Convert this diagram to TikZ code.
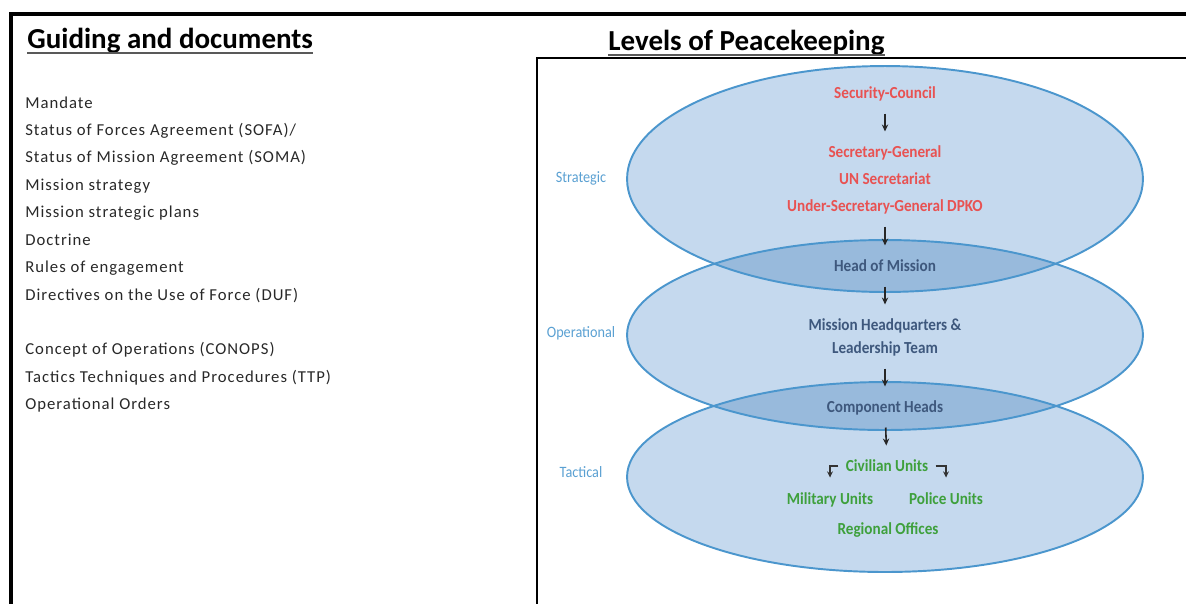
\documentclass[tikz,border=0pt]{standalone}
\usepackage{fontspec}
\setmainfont{Carlito}
\newfontfamily\condfont[FakeStretch=0.9]{Carlito}
\newfontfamily\listfont[LetterSpace=6]{Carlito}
\usepackage{tikz}
\usetikzlibrary{arrows.meta, positioning}

\definecolor{ellfill}{RGB}{197,217,238}
\definecolor{lapfill}{RGB}{152,186,220}
\definecolor{ellline}{RGB}{75,150,205}
\definecolor{stratred}{RGB}{232,82,82}
\definecolor{opslate}{RGB}{62,88,125}
\definecolor{tacgreen}{RGB}{62,160,60}
\definecolor{lvlblue}{RGB}{90,160,210}
\definecolor{listgray}{RGB}{40,40,40}

\begin{document}
\begin{tikzpicture}[
  x=0.02cm, y=-0.02cm,
  head/.style ={font=\fontsize{16.5}{18}\selectfont\bfseries, anchor=base west, inner sep=0pt},
  item/.style ={font=\listfont\fontsize{9.5}{11}\selectfont, text=listgray, anchor=base west, inner sep=0pt},
  lvl/.style  ={font=\condfont\fontsize{9}{11}\selectfont, text=lvlblue},
  unit/.style ={font=\condfont\bfseries\fontsize{9.6}{11}\selectfont, inner sep=1pt,
                text height=1.6ex, text depth=0.4ex},
  strat/.style={unit, text=stratred},
  ops/.style  ={unit, text=opslate},
  tac/.style  ={unit, text=tacgreen},
  arr/.style  ={-{Stealth[length=4pt, width=3.6pt]}, line width=0.9pt, black!85,
                shorten <=0.2cm, shorten >=0.2cm},
  elbow/.style={-{Stealth[length=3.5pt, width=3.4pt]}, line width=1.1pt, black!80,
                shorten <=3pt, shorten >=0.22cm},
  ell/.style  ={x radius=5.16cm, y radius=1.9cm},
  bigell/.style={x radius=5.16cm, y radius=2.26cm}
]
\useasboundingbox (0,0) rectangle (1186,603);

%% ---- frames ----
\draw[line width=2.8pt] (11,610) -- (11,14) -- (1190,14);
\draw[line width=1.2pt] (537,610) -- (537,58) -- (1190,58);

%% ---- Left: guiding documents ----
\node[head] (gd) at (27,48) {Guiding and documents};
\draw[line width=1.3pt, black!65] (gd.south west) -- (gd.south east);

\node[item] (mand)     at (25,108) {Mandate};
\node[item] (sofa)     at (25,135) {Status of Forces Agreement (SOFA)/};
\node[item] (soma)     at (25,162) {Status of Mission Agreement (SOMA)};
\node[item] (mstrat)   at (25,190) {Mission strategy};
\node[item] (mplans)   at (25,217) {Mission strategic plans};
\node[item] (doct)     at (25,245) {Doctrine};
\node[item] (roe)      at (25,272) {Rules of engagement};
\node[item] (duf)      at (25,300) {Directives on the Use of Force (DUF)};
\node[item] (conops)   at (25,354) {Concept of Operations (CONOPS)};
\node[item] (ttp)      at (25,382) {Tactics Techniques and Procedures (TTP)};
\node[item] (oporders) at (25,409) {Operational Orders};

%% ---- Right: levels ----
\node[head] (lp) at (608,50) {Levels of Peacekeeping};
\draw[line width=1.3pt, black!65] (lp.south west) -- (lp.south east);

% ellipse fills
\fill[ellfill] (885,179) ellipse [bigell];
\fill[ellfill] (885,335) ellipse [ell];
\fill[ellfill] (885,477) ellipse [ell];

% darker overlaps
\begin{scope}
  \clip (885,179) ellipse [bigell];
  \fill[lapfill] (885,335) ellipse [ell];
\end{scope}
\begin{scope}
  \clip (885,335) ellipse [ell];
  \fill[lapfill] (885,477) ellipse [ell];
\end{scope}

% ellipse borders
\draw[ellline, line width=1.1pt] (885,179) ellipse [bigell];
\draw[ellline, line width=1.1pt] (885,335) ellipse [ell];
\draw[ellline, line width=1.1pt] (885,477) ellipse [ell];

% level labels
\node[lvl] (lstrat) at (581,178) {Strategic};
\node[lvl] (lops)   at (581,333) {Operational};
\node[lvl] (ltac)   at (581,472) {Tactical};

% strategic level
\node[strat] (sc)  at (885,93)  {Security-Council};
\node[strat] (sg)  at (885,152) {Secretary-General};
\node[strat] (uns) at (885,179) {UN Secretariat};
\node[strat] (usg) at (885,206) {Under-Secretary-General DPKO};

% operational level
\node[ops] (hom) at (885,266) {Head of Mission};
\node[ops] (mhq) at (885,325) {Mission Headquarters \&};
\node[ops] (lt)  at (885,348) {Leadership Team};
\node[ops] (ch)  at (885,407) {Component Heads};

% tactical level
\node[tac] (civ) at (887,466) {Civilian Units};
\node[tac] (mil) at (830,499) {Military Units};
\node[tac] (pol) at (946,499) {Police Units};
\node[tac] (reg) at (888,529) {Regional Offices};

\draw[arr] (sc)  -- (sg);
\draw[arr] (usg) -- (hom);
\draw[arr] (hom) -- (mhq);
\draw[arr] (lt)  -- (ch);
\draw[arr] (ch)  -- (civ);
\draw[elbow] (civ.west) -| (mil.north);
\draw[elbow] (civ.east) -| (pol.north);

\end{tikzpicture}
\end{document}
